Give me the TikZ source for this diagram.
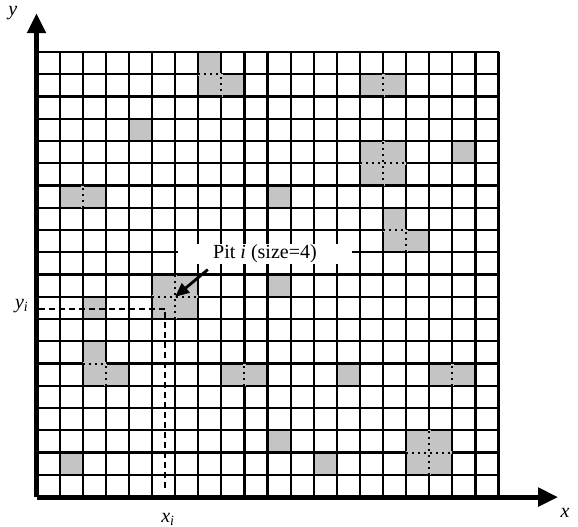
\documentclass[tikz,border=0pt]{standalone}
\usepackage{fontspec}
\setmainfont{Liberation Serif}
\usetikzlibrary{arrows.meta,positioning}
\definecolor{pitgray}{RGB}{196,196,196}

\begin{document}
\begin{tikzpicture}[x=11.55pt, y=11.125pt, font=\fontsize{10}{12}\selectfont,
    gridline/.style={line width=1.1pt},
    axisline/.style={line width=2.5pt, -{Triangle[length=10pt,width=9pt]}},
    pointer/.style={line width=1.4pt, -{Triangle[length=7pt,width=6pt]}},
    pitcell/.style={fill=pitgray},
    pitseam/.style={dotted, line width=1pt, preaction={draw=pitgray, solid, line width=1.5pt}},
    guide/.style={line width=1pt, dash pattern=on 3pt off 2pt}]
  \useasboundingbox (-1.58,-1.30) rectangle (23.44,22.34);

  % occupied cells (lower left corners)
  \foreach \cx/\cy in {7/19, 7/18, 8/18, 4/16, 1/13, 2/13, 10/13, 14/18, 15/18,
      14/15, 15/15, 14/14, 15/14, 18/15, 15/12, 15/11, 16/11,
      5/9, 6/9, 5/8, 6/8, 10/9, 2/8, 2/6, 2/5, 3/5, 8/5, 9/5, 13/5, 17/5, 18/5,
      10/2, 16/2, 17/2, 16/1, 17/1, 1/1, 12/1}
    \fill[pitcell] (\cx,\cy) rectangle ++(1,1);

  \draw[gridline, step={(1,1)}] (0,0) grid (20,20);

  % seams inside the pits
  \foreach \ax/\ay/\bx/\by in {7/19/8/19, 8/18/8/19, 15/18/15/19, 15/14/15/16, 14/15/16/15,
      2/13/2/14, 15/12/16/12, 16/11/16/12, 6/8/6/10, 5/9/7/9, 2/6/3/6, 3/5/3/6,
      9/5/9/6, 18/5/18/6, 17/1/17/3, 16/2/18/2}
    \draw[pitseam] (\ax,\ay) -- (\bx,\by);

  \coordinate (origin) at (0,0);
  \coordinate (ytip) at (0,21.75);
  \coordinate (xtip) at (22.58,0);
  \coordinate (pitc) at (6,9);
  \coordinate (pitpt) at (5.58,8.45);
  \coordinate (yfoot) at (0.1,8.45);
  \coordinate (xfoot) at (5.58,0.3);

  \draw[guide] (yfoot) -- (pitpt) -- (xfoot);

  \node[fill=white, inner xsep=17.5pt, inner ysep=0.5pt] (pitlabel) at (9.89,10.92) {Pit \textit{i} (size=4)};
  \draw[pointer] ([xshift=15pt,yshift=-2.5pt]pitlabel.south west) -- (pitc);

  \draw[axisline] (origin) -- (ytip);
  \draw[axisline] (origin) -- (xtip);

  \node (ylabel) at (-1.02,21.75) {\textit{y}};
  \node (xlabel) at (22.88,-0.72) {\textit{x}};
  \node (yilabel) at (-0.63,8.6) {\textit{y\textsubscript{i}}};
  \node (xilabel) at (5.7,-0.99) {\textit{x\textsubscript{i}}};
\end{tikzpicture}
\end{document}
